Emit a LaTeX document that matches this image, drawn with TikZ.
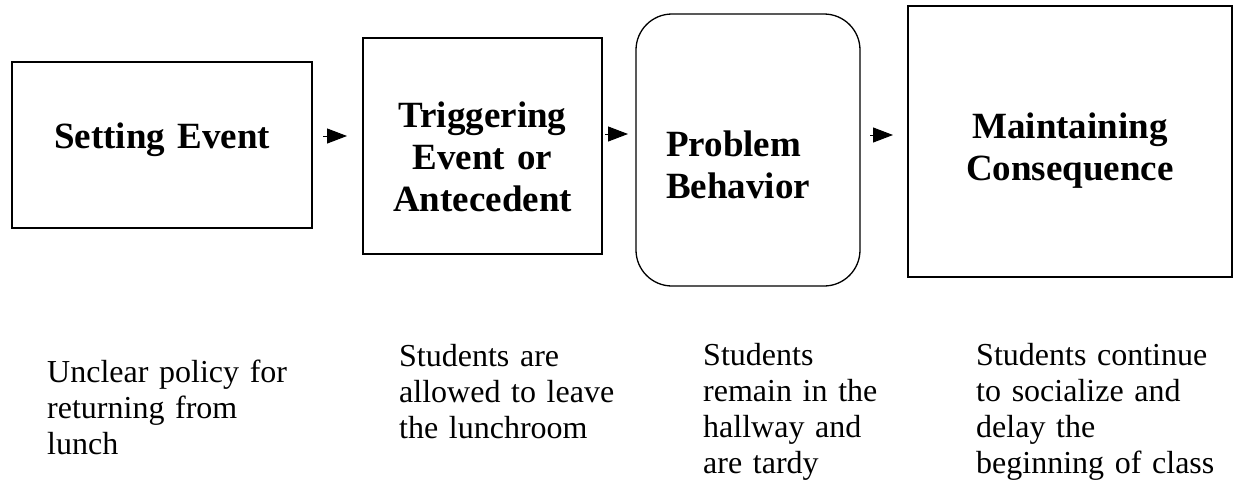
\documentclass[tikz,border=0pt]{standalone}
\usepackage{fontspec}
\setmainfont{Liberation Serif}
\usetikzlibrary{arrows.meta}
\tikzset{
  box/.style={draw, line width=1.3pt, inner sep=0pt, outer sep=0pt},
  head/.style={font=\fontsize{37}{42}\selectfont\bfseries, inner sep=0pt, text width=300pt, align=center, anchor=base},
  headleft/.style={font=\fontsize{37}{42}\selectfont\bfseries, inner sep=0pt, text width=300pt, align=left, anchor=base west},
  body/.style={font=\fontsize{32}{36}\selectfont, inner sep=0pt, text width=300pt, align=left, anchor=base west},
  flow/.style={line width=1pt, -{Triangle[length=20pt,width=15pt]}}
}
\begin{document}
\begin{tikzpicture}[x=1pt,y=-1pt]
\useasboundingbox (0,0) rectangle (1239,488);
% boxes
\node[box, minimum width=300pt, minimum height=166pt] (set) at (162,145) {};
\node[box, minimum width=239pt, minimum height=216pt] (trig) at (482.5,146) {};
\node[box, rounded corners=36pt, minimum width=224pt, minimum height=272pt] (prob) at (748,150) {};
\node[box, minimum width=324pt, minimum height=271pt] (maint) at (1070,141.5) {};
% box titles
\node[head] (setT) at (162,148) {Setting Event};
\node[head] (trigT) at (482.5,127) {Triggering\\Event or\\Antecedent};
\node[headleft] (probT) at (666,156) {Problem\\Behavior};
\node[head] (maintT) at (1070,138) {Maintaining\\Consequence};
% arrows
\draw[flow, shorten <=11pt, shorten >=16pt] ([yshift=9pt]set.east) -- ([yshift=10pt]trig.west);
\draw[flow, shorten <=3pt, shorten >=8pt] ([yshift=12pt]trig.east) -- ([yshift=16pt]prob.west);
\draw[flow, shorten <=10pt, shorten >=15pt] ([yshift=15pt]prob.east) -- ([yshift=6.5pt]maint.west);
% descriptions
\node[body] (setD) at (47,382) {Unclear policy for\\returning from\\lunch};
\node[body] (trigD) at (399,366) {Students are\\allowed to leave\\the lunchroom};
\node[body] (probD) at (703,365) {Students\\remain in the\\hallway and\\are tardy};
\node[body] (maintD) at (976,365) {Students continue\\to socialize and\\delay the\\beginning of class};
\end{tikzpicture}
\end{document}
